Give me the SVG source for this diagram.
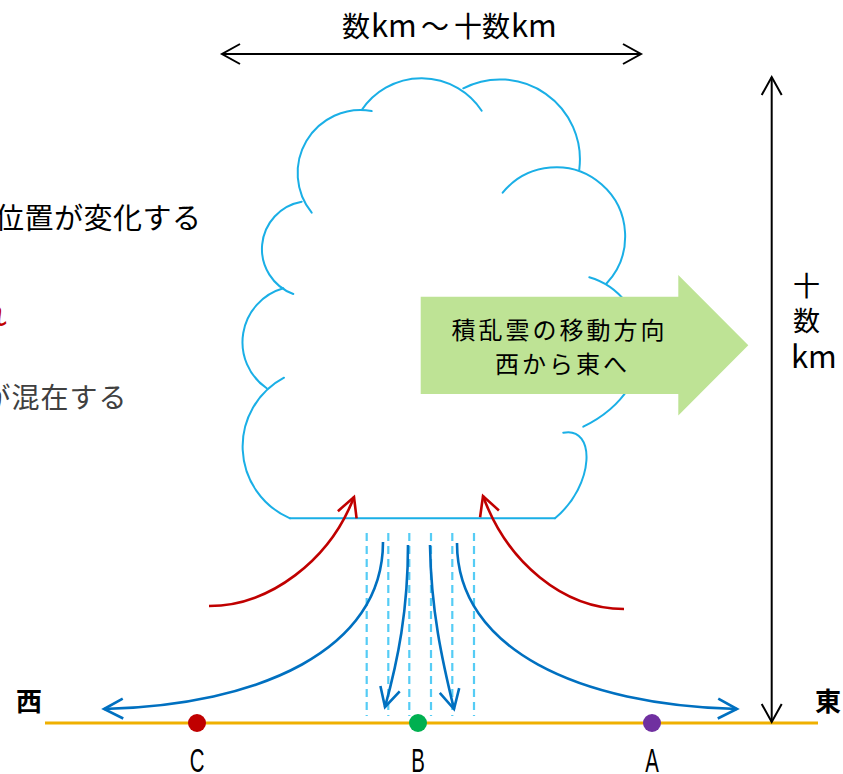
<svg xmlns="http://www.w3.org/2000/svg" width="843" height="774" viewBox="0 0 843 774">
  <defs>
    <style>
      .jp { font-family: "Noto Sans CJK JP", "Noto Sans", sans-serif; fill: #000; }
      .cloud { fill: none; stroke: #1aafe6; stroke-width: 2; stroke-linecap: round; }
      .dim { fill: none; stroke: #000; stroke-width: 2; }
      .down { fill: none; stroke: #0070c0; stroke-width: 2.6; }
      .up { fill: none; stroke: #c00000; stroke-width: 2.6; }
      .rain { stroke: #55ccf5; stroke-width: 2.2; stroke-dasharray: 8 5; }
      .ptlabel { font-family: "Liberation Sans", "DejaVu Sans", sans-serif; font-size: 34px; fill: #000; text-anchor: middle; }
    </style>
    <marker id="chev-black" viewBox="-20 -12 24 24" refX="0" refY="0" markerWidth="24" markerHeight="24" markerUnits="userSpaceOnUse" orient="auto-start-reverse">
      <path d="M-18,-10 L0,0 L-18,10" fill="none" stroke="#000" stroke-width="2"/>
    </marker>
    <marker id="chev-blue" viewBox="-22 -13 26 26" refX="0" refY="0" markerWidth="26" markerHeight="26" markerUnits="userSpaceOnUse" orient="auto">
      <path d="M-19,-10 L0,0 L-19,10" fill="none" stroke="#0070c0" stroke-width="2.6"/>
    </marker>
    <marker id="chev-red" viewBox="-22 -13 26 26" refX="0" refY="0" markerWidth="26" markerHeight="26" markerUnits="userSpaceOnUse" orient="auto">
      <path d="M-19,-10 L0,0 L-19,10" fill="none" stroke="#c00000" stroke-width="2.6"/>
    </marker>
  </defs>

  <rect width="843" height="774" fill="#fff"/>

  <!-- partially visible side notes -->
  <g id="side-notes">
    <text class="jp" x="-5" y="229" font-size="29" letter-spacing="0.5">位置が変化する</text>
    <text class="jp" x="-22" y="326" font-size="29" style="fill:#c00000">れ</text>
    <text class="jp" x="-17.5" y="408" font-size="28" letter-spacing="1" style="fill:#404040">が混在する</text>
  </g>

  <!-- cumulonimbus outline -->
  <g id="cloud">
    <path class="cloud" d="M371.7,111 A63,63 0 0 0 311.7,212.7"/>
    <path class="cloud" d="M301.7,201.7 A48,48 0 0 0 293.3,294"/>
    <path class="cloud" d="M283.3,288.3 A56,56 0 0 0 266.7,388.3"/>
    <path class="cloud" d="M284,377.7 A78,78 0 0 0 290,518.3"/>
    <path class="cloud" d="M361.7,110 A72,72 0 0 1 481.7,110.7"/>
    <path class="cloud" d="M463.3,88.3 A80,80 0 0 1 579.3,169.3"/>
    <path class="cloud" d="M502.7,192.7 A69,69 0 1 1 606.7,283.3"/>
    <path class="cloud" d="M589.3,277.3 C650,295 668,385 583.3,426.7"/>
    <path class="cloud" d="M563.3,432.7 C596,426 595,485 555,518.3"/>
    <path class="cloud" d="M290,518.3 H555"/>
  </g>

  <!-- direction of movement -->
  <g id="movement-arrow">
    <polygon points="420.7,296.7 678.3,296.7 678.3,275 748.3,345.3 678.3,415.5 678.3,394 420.7,394" fill="#bee395"/>
    <text class="jp" x="559.5" y="339" font-size="24" letter-spacing="3" text-anchor="middle">積乱雲の移動方向</text>
    <text class="jp" x="562.5" y="373" font-size="24" letter-spacing="3" text-anchor="middle">西から東へ</text>
  </g>

  <!-- rain shafts -->
  <g id="rain">
    <line class="rain" x1="366.7" y1="533" x2="366.7" y2="716"/>
    <line class="rain" x1="388.3" y1="533" x2="388.3" y2="716"/>
    <line class="rain" x1="409.3" y1="533" x2="409.3" y2="716"/>
    <line class="rain" x1="431" y1="533" x2="431" y2="716"/>
    <line class="rain" x1="452.3" y1="533" x2="452.3" y2="716"/>
    <line class="rain" x1="474" y1="533" x2="474" y2="716"/>
  </g>

  <!-- ground -->
  <g id="ground">
    <line x1="45" y1="723" x2="818" y2="723" stroke="#efb000" stroke-width="3"/>
  </g>

  <!-- air flows and dimensions -->
  <g id="connectors">
    <path class="up" d="M209,606 C270,606 330,560 354,497" marker-end="url(#chev-red)"/>
    <path class="up" d="M624,609 C563,609 507,562 483,496" marker-end="url(#chev-red)"/>
    <path class="down" d="M383,542 C383,650 260,705 104,709" marker-end="url(#chev-blue)"/>
    <path class="down" d="M457,543 C457,650 580,705 737,709" marker-end="url(#chev-blue)"/>
    <path class="down" d="M408,545 C408,610 398,660 385,707" marker-end="url(#chev-blue)"/>
    <path class="down" d="M430,545 C431,610 442,660 454,709" marker-end="url(#chev-blue)"/>
    <line class="dim" x1="222" y1="54" x2="641" y2="54" marker-start="url(#chev-black)" marker-end="url(#chev-black)"/>
    <line class="dim" x1="771.7" y1="77" x2="771.7" y2="722" marker-start="url(#chev-black)" marker-end="url(#chev-black)"/>
  </g>

  <!-- dimension labels -->
  <g id="width-label">
    <text class="jp" y="37" font-size="28"><tspan x="342">数</tspan><tspan x="371" font-size="31">km</tspan><tspan x="421">〜</tspan><tspan x="454">十</tspan><tspan x="482">数</tspan><tspan x="511" font-size="31">km</tspan></text>
  </g>
  <g id="height-label">
    <text class="jp" x="793" y="296" font-size="27">十</text>
    <text class="jp" x="793" y="331" font-size="27">数</text>
    <text class="jp" x="791" y="368" font-size="31">km</text>
  </g>

  <!-- compass labels -->
  <g id="west">
    <text class="jp" x="16" y="711" font-size="26" font-weight="bold">西</text>
  </g>
  <g id="east">
    <text class="jp" x="815" y="711" font-size="26" font-weight="bold">東</text>
  </g>

  <!-- observation points -->
  <g id="point-C">
    <circle cx="197" cy="723" r="9" fill="#c00000"/>
    <text class="ptlabel" x="197" y="772" transform="translate(197 0) scale(0.6 1) translate(-197 0)">C</text>
  </g>
  <g id="point-B">
    <circle cx="418" cy="723" r="9" fill="#00b050"/>
    <text class="ptlabel" x="418" y="772" transform="translate(418 0) scale(0.6 1) translate(-418 0)">B</text>
  </g>
  <g id="point-A">
    <circle cx="652" cy="723" r="9" fill="#7030a0"/>
    <text class="ptlabel" x="652" y="772" transform="translate(652 0) scale(0.6 1) translate(-652 0)">A</text>
  </g>
</svg>
